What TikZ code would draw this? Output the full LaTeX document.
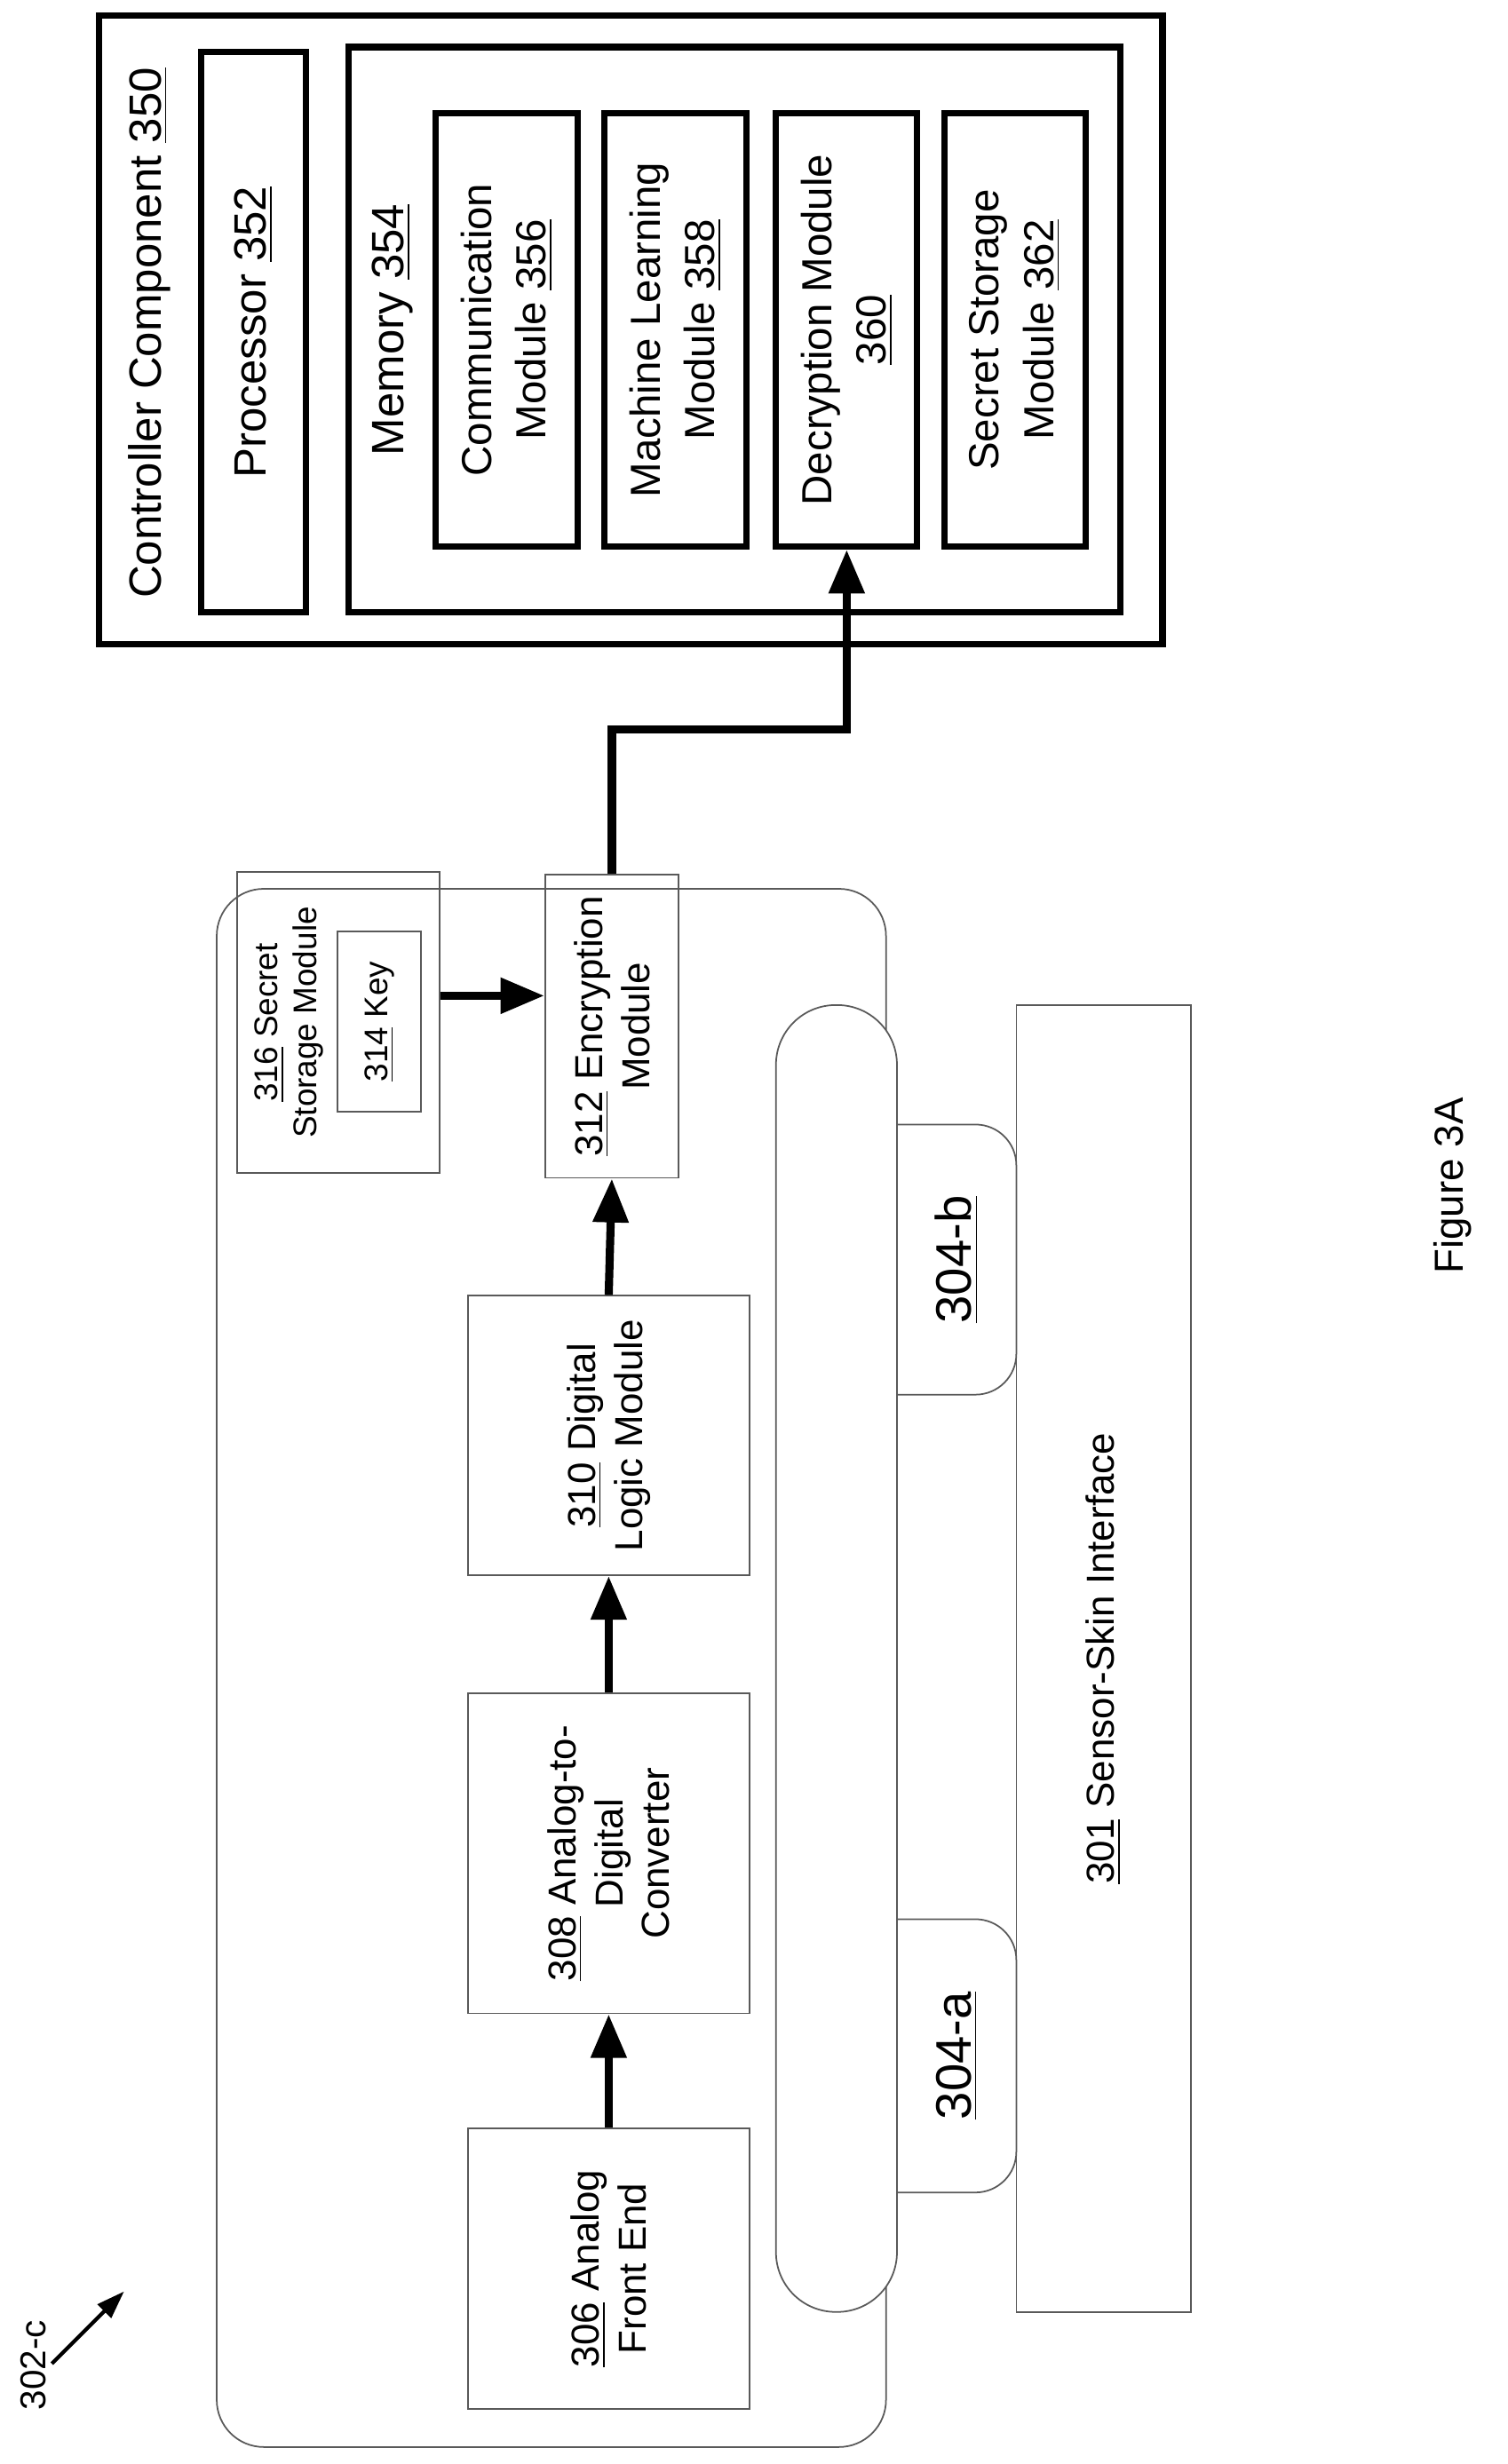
\documentclass[tikz,border=0pt]{standalone}
\usepackage{fontspec}
\usetikzlibrary{arrows.meta}
\setmainfont{Liberation Sans}
\newcommand\px[1]{#1*0.50325pt}
\begin{document}
\begin{tikzpicture}[x=0.0176875cm,y=-0.0176875cm,
  thick box/.style={draw,line width=2pt,rotate=90,inner sep=0pt,align=center},
  thin box/.style={draw,gray!70!black,line width=0.5pt,rotate=90,inner sep=0pt,align=center,text=black},
  lbl/.style={rotate=90,inner sep=0pt,align=center},
  arr/.style={line width=2.6pt,-{Triangle[length=14pt,width=11pt]}},
]
\useasboundingbox (0,0) rectangle (960,1568.9);
% controller
\node[thick box,minimum width=\px{400},minimum height=\px{677}] (ctl) at (401.5,210) {};
\node[lbl,font=\fontsize{14.5}{17}\selectfont] (ctlt) at (95,212) {Controller Component \underline{350}};
\node[thick box,minimum width=\px{357},minimum height=\px{67},font=\fontsize{14.5}{17}\selectfont] (p352) at (161.5,211.5) {Processor \underline{352}};
\node[thick box,minimum width=\px{360},minimum height=\px{491}] (m354) at (467.5,210) {};
\node[lbl,font=\fontsize{14.5}{17}\selectfont] (m354t) at (250,210) {Memory \underline{354}};
\begin{scope}[every node/.style={thick box,minimum width=\px{276},minimum height=\px{90},font=\fontsize{13.5}{17.5}\selectfont}]
\node (n356) at (322.5,210) {Communication\\Module \underline{356}};
\node (n358) at (430,210) {Machine Learning\\Module \underline{358}};
\node (n360) at (539,210) {Decryption Module\\\underline{360}};
\node (n362) at (646,210) {Secret Storage\\Module \underline{362}};
\end{scope}
% sensor
\node[draw,gray!70!black,line width=0.5pt,rotate=90,rounded corners=\px{30},minimum width=\px{992},minimum height=\px{426}] (big) at (351,1062) {};
\begin{scope}[every node/.style={thin box,minimum height=\px{179},font=\fontsize{12.5}{15}\selectfont}]
\node[minimum width=\px{179}] (n306) at (387.5,1444.5) {\underline{306} Analog\\Front End};
\node[minimum width=\px{204}] (n308) at (387.5,1180) {\underline{308} Analog-to-\\Digital\\Converter};
\node[minimum width=\px{178}] (n310) at (387.5,914) {\underline{310} Digital\\Logic Module};
\end{scope}
\node[thin box,minimum width=\px{193},minimum height=\px{85},font=\fontsize{12.5}{15}\selectfont] (n312) at (389.5,653.5) {\underline{312} Encryption\\Module};
\node[thin box,minimum width=\px{192},minimum height=\px{129}] (n316) at (215.5,651) {};
\node[lbl,font=\fontsize{10.5}{12.5}\selectfont] (n316t) at (184,651) {\underline{316} Secret\\Storage Module};
\node[thin box,minimum width=\px{115},minimum height=\px{53},font=\fontsize{10.5}{12.5}\selectfont] (n314) at (241.5,650.5) {\underline{314} Key};
% bus and electrodes
\node[draw,gray!70!black,line width=0.5pt,rotate=90,rounded corners=\px{38},minimum width=\px{832},minimum height=\px{77},fill=white] (bus) at (532.5,1056) {};
\draw[gray!70!black,line width=0.5pt,rounded corners=\px{26}] (571,716) -- (647,716) -- (647,888) -- (571,888);
\draw[gray!70!black,line width=0.5pt,rounded corners=\px{26}] (571,1222) -- (647,1222) -- (647,1396) -- (571,1396);
\node[lbl,font=\fontsize{16}{19}\selectfont] (e304b) at (609,802) {\underline{304-b}};
\node[lbl,font=\fontsize{16}{19}\selectfont] (e304a) at (609,1309) {\underline{304-a}};
\node[thin box,minimum width=\px{832},minimum height=\px{111},font=\fontsize{12.5}{15}\selectfont] (n301) at (702.5,1056) {\underline{301} Sensor-Skin Interface};
% arrows
\draw[arr] (n306.east) -- (n308.west);
\draw[arr] (n308.east) -- (n310.west);
\draw[arr] (n310.east) -- (n312.west);
\path (n316.south) ++(0,-17) coordinate (ka);
\draw[arr] (ka) -- (ka -| n312.north);
\draw[arr] (n312.east) -- ++(0,-92) -| (n360.west);
% labels
\node[lbl,font=\fontsize{13}{15}\selectfont] (f3a) at (925,755) {Figure 3A};
\node[lbl,font=\fontsize{11.5}{14}\selectfont] (l302) at (21,1506) {302-c};
\coordinate (a302s) at (33,1505);
\coordinate (a302e) at (79,1459);
\draw[line width=1.2pt,-{Triangle[length=9pt,width=6pt]}] (a302s) -- (a302e);
\end{tikzpicture}
\end{document}
